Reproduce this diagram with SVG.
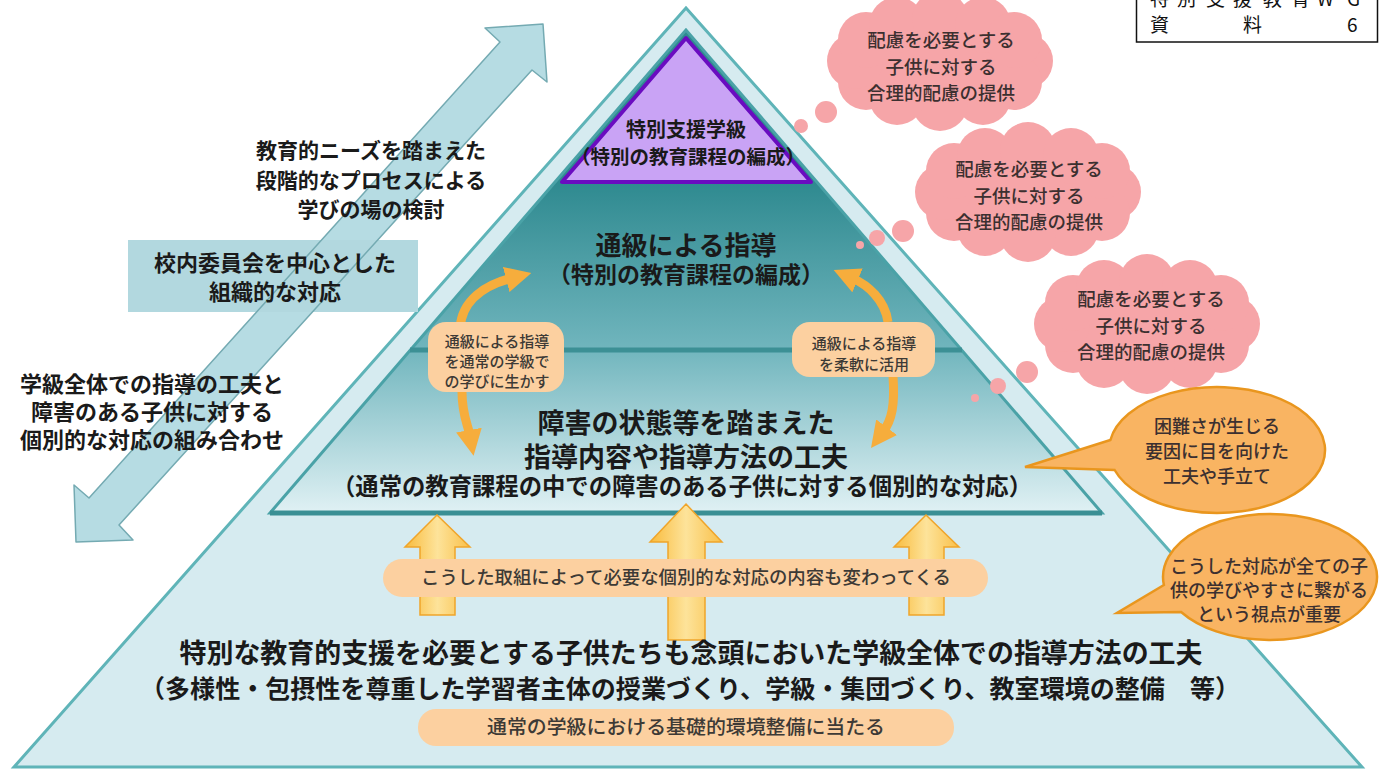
<svg xmlns="http://www.w3.org/2000/svg" xmlns:xlink="http://www.w3.org/1999/xlink" width="1389" height="771" viewBox="0 0 1389 771">
<style>
text{font-family:'Noto Sans CJK JP','Noto Sans CJK SC',sans-serif;text-anchor:middle}
.b{font-weight:700;fill:#1a1a1a}
.m{font-weight:500;fill:#3c3030}
.s{font-weight:500;fill:#3d3a36}
.pill{fill:#fcd0a0}
.cloud{fill:#f6a5a8}
.bub{fill:#f9b462;stroke:#e9961e;stroke-width:2.5}
.yarr{fill:url(#gy);stroke:#f0a52a;stroke-width:1.5}
.carr{fill:none;stroke:#f6ad3c;stroke-width:9;marker-end:url(#ho)}
</style>
<defs>
<linearGradient id="gt" gradientUnits="userSpaceOnUse" x1="0" y1="183" x2="0" y2="513">
<stop offset="0" stop-color="#2f8a90"/>
<stop offset="0.5" stop-color="#70b5bd"/>
<stop offset="1" stop-color="#e0f1f4"/>
</linearGradient>
<linearGradient id="gy" x1="0" y1="0" x2="1" y2="0">
<stop offset="0" stop-color="#f9bb3c"/>
<stop offset="0.5" stop-color="#fde39a"/>
<stop offset="1" stop-color="#f9c04a"/>
</linearGradient>
<marker id="ho" viewBox="0 0 26 26" refX="6" refY="13" markerWidth="26" markerHeight="26" markerUnits="userSpaceOnUse" orient="auto">
<path d="M0,0 L26,13 L0,26 Z" fill="#f6ad3c"/>
</marker>
<g id="cl">
<ellipse cx="0" cy="0" rx="90" ry="48"/>
<circle cx="85" cy="0" r="28"/><circle cx="74" cy="21" r="28"/><circle cx="43" cy="36" r="28"/>
<circle cx="0" cy="42" r="28"/><circle cx="-43" cy="36" r="28"/><circle cx="-74" cy="21" r="28"/>
<circle cx="-85" cy="0" r="28"/><circle cx="-74" cy="-21" r="28"/><circle cx="-43" cy="-36" r="28"/>
<circle cx="0" cy="-42" r="28"/><circle cx="43" cy="-36" r="28"/><circle cx="74" cy="-21" r="28"/>
</g>
<polygon id="dbl" points="543,24 547,82 532,70 119,525 133,540 76,542 74,485 89,498 500,42 485,28"/>
</defs>
<rect width="1389" height="771" fill="#ffffff"/>

<g id="pyramid">
<polygon points="686,8 14,767 1362,767" fill="#d6ebf0" stroke="#5fb4b8" stroke-width="3"/>
<polygon points="686,30 270,513 1102,513" fill="url(#gt)" stroke="#4aa2a7" stroke-width="3"/>
<line x1="270" y1="513" x2="1102" y2="513" stroke="#3a8f94" stroke-width="5"/>
<line x1="410" y1="350" x2="962" y2="350" stroke="#3c9095" stroke-width="5"/>
</g>

<g id="tokubetsu">
<polygon points="686,38 562,182 811,182" fill="#c9a3f5" stroke="#6a0cc0" stroke-width="4" stroke-linejoin="round"/>
<text class="b" x="686" y="137" font-size="20">特別支援学級</text>
<text class="b" x="688" y="164" font-size="19.5">（特別の教育課程の編成）</text>
</g>

<g id="tsukyu">
<text class="b" x="686" y="255" font-size="26">通級による指導</text>
<text class="b" x="686" y="283" font-size="23">（特別の教育課程の編成）</text>
</g>

<g id="shogai">
<text class="b" x="686" y="433" font-size="27">障害の状態等を踏まえた</text>
<text class="b" x="686" y="467" font-size="27">指導内容や指導方法の工夫</text>
<text class="b" x="682" y="495" font-size="23.5" textLength="700" lengthAdjust="spacingAndGlyphs">（通常の教育課程の中での障害のある子供に対する個別的な対応）</text>
</g>

<g id="connectors">
<polygon class="yarr" points="437,515 470,547 455,547 455,615 420,615 420,547 405,547"/>
<polygon class="yarr" points="686,504 722,542 705,542 705,640 668,640 668,542 650,542"/>
<polygon class="yarr" points="926,515 959,547 944,547 944,615 909,615 909,547 894,547"/>
<path class="carr" d="M460,328 C462,300 485,285 512,278"/>
<path class="carr" d="M462,392 C462,415 468,425 470,436"/>
<path class="carr" d="M888,322 C885,300 868,285 852,278"/>
<path class="carr" d="M893,376 C895,405 892,420 883,432"/>
</g>

<g id="pill-torikumi">
<rect class="pill" x="383" y="559" width="605" height="38" rx="19"/>
<text class="s" x="686" y="584" font-size="18.5" textLength="530" lengthAdjust="spacingAndGlyphs">こうした取組によって必要な個別的な対応の内容も変わってくる</text>
</g>

<g id="gakkyu">
<text class="b" x="691" y="663" font-size="27" textLength="1023" lengthAdjust="spacingAndGlyphs">特別な教育的支援を必要とする子供たちも念頭においた学級全体での指導方法の工夫</text>
<text class="b" x="690" y="698" font-size="25" textLength="1100" lengthAdjust="spacingAndGlyphs">（多様性・包摂性を尊重した学習者主体の授業づくり、学級・集団づくり、教室環境の整備　等）</text>
</g>

<g id="pill-kiso">
<rect class="pill" x="418" y="709" width="536" height="37" rx="18"/>
<text class="s" x="686" y="734" font-size="19.5" textLength="398" lengthAdjust="spacingAndGlyphs">通常の学級における基礎的環境整備に当たる</text>
</g>

<g id="pill-left">
<rect class="pill" x="428" y="322" width="136" height="70" rx="18"/>
<text class="s" x="497" y="347" font-size="15">通級による指導</text>
<text class="s" x="497" y="367" font-size="15">を通常の学級で</text>
<text class="s" x="497" y="387" font-size="15">の学びに生かす</text>
</g>

<g id="pill-right">
<rect class="pill" x="792" y="322" width="143" height="55" rx="18"/>
<text class="s" x="864" y="349" font-size="15">通級による指導</text>
<text class="s" x="864" y="370" font-size="15">を柔軟に活用</text>
</g>

<g id="left-arrow">
<use xlink:href="#dbl" href="#dbl" fill="#b6dce3"/>
</g>

<g id="kounai">
<rect x="128" y="240" width="290" height="72" fill="#b2d8df"/>
<use xlink:href="#dbl" href="#dbl" fill="none" stroke="#74aab2" stroke-width="1.5" stroke-linejoin="round"/>
<text class="b" x="275" y="271" font-size="22">校内委員会を中心とした</text>
<text class="b" x="275" y="300" font-size="22">組織的な対応</text>
</g>

<g id="process">
<text class="b" x="371" y="158" font-size="21">教育的ニーズを踏まえた</text>
<text class="b" x="371" y="188" font-size="21">段階的なプロセスによる</text>
<text class="b" x="371" y="217" font-size="21">学びの場の検討</text>
</g>

<g id="kumiawase">
<text class="b" x="152" y="392" font-size="22">学級全体での指導の工夫と</text>
<text class="b" x="152" y="420" font-size="22">障害のある子供に対する</text>
<text class="b" x="152" y="448" font-size="22">個別的な対応の組み合わせ</text>
</g>

<g id="cloud1" class="cloud">
<use xlink:href="#cl" href="#cl" transform="translate(940,61)"/>
<circle cx="826" cy="112" r="11"/><circle cx="801" cy="126" r="7"/>
<text class="m" x="941" y="47" font-size="18.5">配慮を必要とする</text>
<text class="m" x="941" y="74" font-size="18.5">子供に対する</text>
<text class="m" x="941" y="100" font-size="18.5">合理的配慮の提供</text>
</g>

<g id="cloud2" class="cloud">
<use xlink:href="#cl" href="#cl" transform="translate(1028,192)"/>
<circle cx="903" cy="231" r="11"/><circle cx="877" cy="238" r="8"/><circle cx="860" cy="245" r="4"/>
<text class="m" x="1029" y="176" font-size="18.5">配慮を必要とする</text>
<text class="m" x="1029" y="203" font-size="18.5">子供に対する</text>
<text class="m" x="1029" y="229" font-size="18.5">合理的配慮の提供</text>
</g>

<g id="cloud3" class="cloud">
<use xlink:href="#cl" href="#cl" transform="translate(1147,324)"/>
<circle cx="1027" cy="372" r="11"/><circle cx="998" cy="386" r="8"/><circle cx="975" cy="398" r="4"/>
<text class="m" x="1151" y="306" font-size="18.5">配慮を必要とする</text>
<text class="m" x="1151" y="333" font-size="18.5">子供に対する</text>
<text class="m" x="1151" y="359" font-size="18.5">合理的配慮の提供</text>
</g>

<g id="bubble1">
<path class="bub" d="M1110.4,440 L1025,467 L1114.6,470 A108,63 0 1 0 1110.4,440 Z"/>
<text class="m" x="1217" y="433" font-size="18">困難さが生じる</text>
<text class="m" x="1217" y="458" font-size="18">要因に目を向けた</text>
<text class="m" x="1217" y="483" font-size="18">工夫や手立て</text>
</g>

<g id="bubble2">
<path class="bub" d="M1163.9,585 L1117,613 L1181.1,612 A107,63 0 1 0 1163.9,585 Z"/>
<text class="m" x="1269" y="573" font-size="18">こうした対応が全ての子</text>
<text class="m" x="1269" y="597" font-size="18">供の学びやすさに繋がる</text>
<text class="m" x="1269" y="621" font-size="18">という視点が重要</text>
</g>

<g id="doc-label">
<rect x="1136.5" y="-3" width="241" height="45" fill="#ffffff" stroke="#111111" stroke-width="1.5"/>
<text x="1150 1177 1206 1233 1263 1291 1317 1347" y="6" font-size="19" fill="#111" style="text-anchor:start">特別支援教育WG</text>
<text x="1150 1243 1347" y="32" font-size="19" fill="#111" style="text-anchor:start">資料6</text>
</g>
</svg>
